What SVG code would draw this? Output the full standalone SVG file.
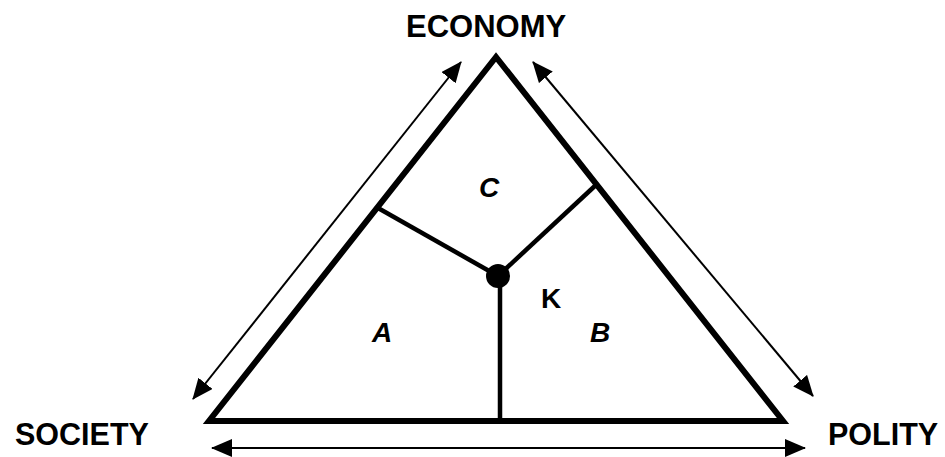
<svg xmlns="http://www.w3.org/2000/svg" width="945" height="457" viewBox="0 0 945 457">
<style>
.lbl{font-family:"Liberation Sans",Arial,sans-serif;font-weight:bold;font-size:30.5px;fill:#000}
.reg{font-family:"Liberation Sans",Arial,sans-serif;font-weight:bold;font-style:italic;font-size:28px;fill:#000}
.arr{stroke:#000;stroke-width:2;fill:none;marker-start:url(#ah);marker-end:url(#ah)}
.inner{stroke:#000;stroke-width:4.5;fill:none}
</style>
<defs>
<marker id="ah" markerUnits="userSpaceOnUse" markerWidth="21" markerHeight="18" refX="20" refY="9" orient="auto-start-reverse">
<path d="M0,0 L21,9 L0,18 z" fill="#000"/>
</marker>
</defs>
<rect width="945" height="457" fill="#fff"/>
<g id="connectors">
<line class="arr" x1="193" y1="399" x2="461" y2="62"/>
<line class="arr" x1="533" y1="62" x2="813" y2="396"/>
<line class="arr" x1="212" y1="448" x2="805" y2="448"/>
</g>
<g id="triangle">
<path d="M496,57 L209,421 L783,421 Z" fill="none" stroke="#000" stroke-width="6" stroke-linejoin="miter"/>
<line class="inner" x1="378" y1="208" x2="498" y2="276"/>
<line class="inner" x1="597" y1="184" x2="498" y2="276"/>
<line class="inner" x1="500" y1="276" x2="500" y2="420"/>
<circle cx="498" cy="276" r="12" fill="#000"/>
</g>
<g id="economy"><text class="lbl" x="406" y="37" style="font-size:31px">ECONOMY</text></g>
<g id="society"><text class="lbl" x="15" y="445">SOCIETY</text></g>
<g id="polity"><text class="lbl" x="828" y="445">POLITY</text></g>
<g id="regionC"><text class="reg" x="479" y="197">C</text></g>
<g id="regionA"><text class="reg" x="372" y="342">A</text></g>
<g id="regionB"><text class="reg" x="590" y="342">B</text></g>
<g id="nodeK"><text class="lbl" x="541" y="308" style="font-size:28px">K</text></g>
</svg>
